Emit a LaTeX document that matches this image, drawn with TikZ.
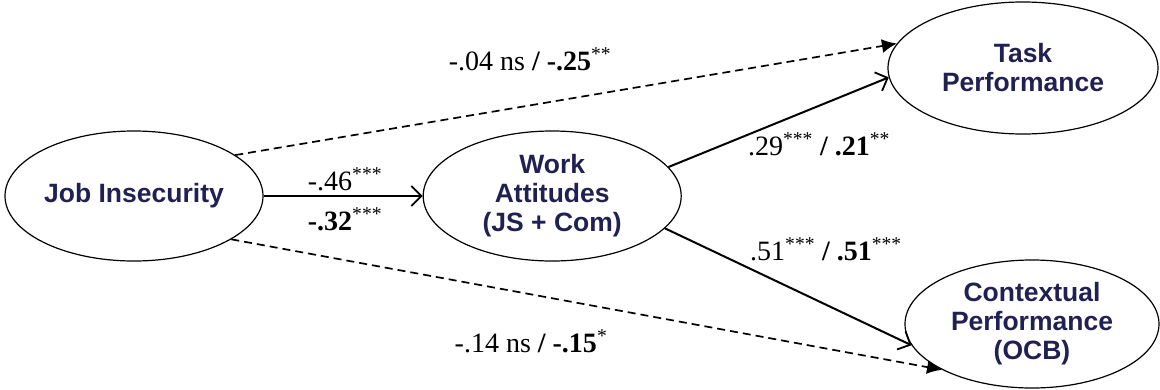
\documentclass[tikz,border=0pt]{standalone}
\usepackage{fontspec}
\setmainfont{Liberation Serif}
\setsansfont{Liberation Sans}
\usepackage{tikz}
\usetikzlibrary{arrows.meta,positioning,shapes.geometric}
\usepackage{xcolor}
\definecolor{LVNavy}{HTML}{202052}

\begin{document}
\begin{tikzpicture}[x=1pt,y=-1pt,
  lv/.style={draw,ellipse,line width=1.2pt,inner sep=0pt,minimum width=258pt,minimum height=130pt,align=center,text=LVNavy,font=\sffamily\bfseries\fontsize{26.5}{29}\selectfont},
  co/.style={anchor=base,inner sep=0pt,font=\fontsize{28}{30}\selectfont},
  a/.style={-{Straight Barb[length=10pt,width=20pt,line width=1.8pt]},line width=2pt},
  d/.style={-{Latex[length=15pt,width=14pt]},line width=1.7pt,dash pattern=on 8pt off 5pt}]
\useasboundingbox (0,0) rectangle (1160,389);
\node[lv] (ji) at (134,196) {Job Insecurity};
\node[lv,right=159pt of ji] (wa) {Work\\Attitudes\\(JS + Com)};
\node[lv,minimum width=270pt,minimum height=132pt] (tp) at (1023,68) {Task\\Performance};
\node[lv,minimum width=254pt,minimum height=128pt] (cp) at (1032,324) {Contextual\\Performance\\(OCB)};
\draw[a] (ji) -- (wa);
\draw[a] (wa.14) -- (tp.184);
\draw[a] (wa.344) -- (cp.190);
\draw[d] (ji.22) -- (tp.169);
\draw[d] (ji.336) -- (cp.207);
\node[co] (l1) at (345,190) {-.46\textsuperscript{***}};
\node[co] (l2) at (345,230) {\textbf{-.32}\textsuperscript{***}};
\node[co] (l3) at (530,70) {-.04 ns \textbf{/ -.25}\textsuperscript{**}};
\node[co] (l4) at (819,155) {.29\textsuperscript{***} \textbf{/ .21}\textsuperscript{**}};
\node[co] (l5) at (826,260) {.51\textsuperscript{***} \textbf{/ .51}\textsuperscript{***}};
\node[co] (l6) at (531,352) {-.14 ns \textbf{/ -.15}\textsuperscript{*}};
\end{tikzpicture}
\end{document}
